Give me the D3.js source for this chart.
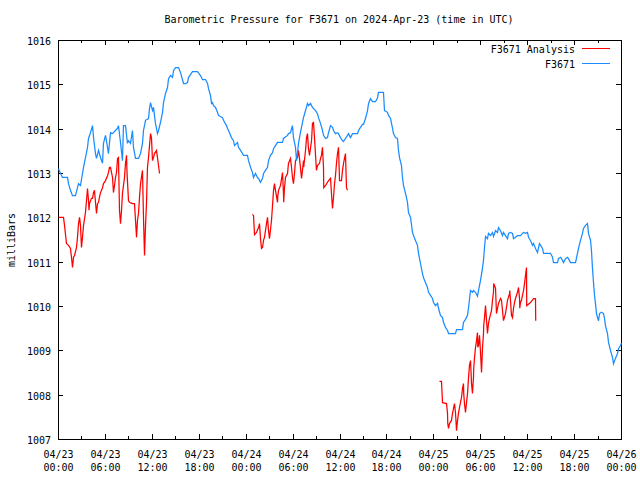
<!DOCTYPE html>
<html><head><meta charset="utf-8">
<script src="https://cdn.jsdelivr.net/npm/d3@7"></script>
<style>body{margin:0;background:#fff}</style>
</head><body>
<svg id="c" width="640" height="480"></svg>
<script>
const titleText = "Barometric Pressure for F3671 on 2024-Apr-23 (time in UTC)";
const yLabelText = "milliBars";
const seriesNames = ["F3671 Analysis", "F3671"];
const seriesColors = ["#ff0000", "#1a8cff"];
const xTickHours = [0, 6, 12, 18, 24, 30, 36, 42, 48, 54, 60, 66, 72];
const xMinorHours = [3, 9, 15, 21, 27, 33, 39, 45, 51, 57, 63, 69];
const xTickDates = ["04/23","04/23","04/23","04/23","04/24","04/24","04/24","04/24","04/25","04/25","04/25","04/25","04/26"];
const xTickTimes = ["00:00","06:00","12:00","18:00","00:00","06:00","12:00","18:00","00:00","06:00","12:00","18:00","00:00"];
const yTicks = [1007, 1008, 1009, 1010, 1011, 1012, 1013, 1014, 1015, 1016];

// F3671 observed pressure (hours since 2024-04-23 00:00 UTC)
const pressureHours = [0,0.26,0.51,1.15,1.28,1.53,1.79,2.17,2.43,2.56,2.81,3.07,3.20,3.45,3.71,3.84,4.09,4.35,4.48,4.73,4.86,5.12,5.37,5.63,5.75,6.01,6.27,6.39,6.65,6.91,7.29,7.55,7.67,7.93,8.18,8.31,8.57,8.82,8.95,9.21,9.46,9.59,9.85,10.23,10.49,10.74,10.87,11.13,11.51,11.64,11.77,12.02,12.15,12.40,12.66,12.79,13.04,13.30,13.43,13.68,13.94,14.07,14.32,14.58,14.71,14.96,15.35,15.60,15.99,16.24,16.50,16.63,17.14,17.78,18.16,18.42,18.80,19.06,19.18,19.44,19.57,19.69,19.82,20.08,20.33,20.46,20.97,21.10,21.48,21.61,21.87,22.12,22.38,22.51,22.89,23.02,23.28,23.66,24.17,24.30,24.56,24.81,24.94,25.19,25.45,25.58,25.83,26.09,26.22,26.47,26.73,26.86,27.11,27.37,27.50,27.75,28.01,28.65,28.77,29.29,29.41,29.66,29.92,30.05,30.31,30.44,30.56,30.69,30.94,31.20,31.33,31.59,31.84,31.97,32.23,32.48,32.87,33.12,33.25,33.51,33.76,33.89,34.15,34.40,34.53,34.79,35.04,35.17,35.42,35.68,35.81,36.06,36.32,36.45,36.70,36.96,37.09,37.34,37.60,38.24,38.37,38.62,38.88,39.01,39.26,39.52,39.65,39.90,40.16,40.54,40.80,40.92,41.56,41.69,42.07,42.20,42.46,42.72,42.84,43.10,43.35,43.48,43.61,43.86,43.99,44.12,44.38,44.63,44.76,45.02,45.27,45.40,45.65,45.91,46.04,46.29,46.55,46.68,46.93,47.19,47.32,47.57,47.83,47.96,48.21,48.47,48.60,48.85,49.11,49.24,49.49,49.75,49.88,50.77,50.90,51.67,51.79,52.05,52.31,52.43,52.69,52.94,53.07,53.33,53.58,53.71,53.97,54.22,54.35,54.48,54.61,54.86,54.99,55.25,55.50,55.63,55.89,56.14,56.27,56.53,56.78,56.91,57.16,57.42,57.55,57.80,58.06,58.19,58.44,58.70,59.08,59.34,59.47,59.72,59.98,60.11,60.36,60.62,60.75,61.00,61.26,61.51,61.90,62.03,62.92,63.18,63.30,63.82,63.94,64.20,64.45,64.58,64.84,65.09,65.22,65.48,66.12,66.37,66.50,66.76,67.01,67.14,67.40,67.65,67.78,68.04,68.16,68.29,68.42,68.55,68.67,68.80,68.93,69.06,69.19,69.44,69.70,69.83,69.95,70.21,70.34,70.59,70.85,70.98,71.23,71.49,71.62,71.87,72.00];
const pressureValues = [1013.11,1013.00,1012.91,1012.91,1012.77,1012.62,1012.50,1012.50,1012.68,1012.77,1012.73,1013.00,1013.14,1013.36,1013.59,1013.79,1013.92,1014.08,1013.81,1013.45,1013.34,1013.52,1013.36,1013.23,1013.68,1013.86,1013.59,1013.45,1013.92,1013.90,1013.97,1014.02,1014.08,1013.70,1013.29,1014.08,1014.08,1013.68,1013.74,1013.68,1013.97,1013.59,1013.34,1013.34,1013.45,1013.68,1013.97,1014.20,1014.24,1014.47,1014.60,1014.42,1014.49,1014.13,1013.90,1013.97,1014.15,1014.38,1014.60,1014.80,1014.94,1015.14,1015.21,1015.17,1015.32,1015.39,1015.39,1015.28,1015.03,1015.03,1015.05,1015.17,1015.30,1015.30,1015.21,1015.12,1015.12,1015.03,1014.92,1014.76,1014.58,1014.60,1014.53,1014.49,1014.38,1014.31,1014.26,1014.20,1014.08,1014.02,1013.92,1013.81,1013.74,1013.63,1013.70,1013.59,1013.52,1013.41,1013.41,1013.29,1013.14,1013.02,1012.91,1013.00,1012.91,1012.89,1012.80,1012.89,1013.00,1013.07,1013.14,1013.29,1013.41,1013.47,1013.56,1013.63,1013.70,1013.70,1013.79,1013.86,1013.90,1013.92,1014.08,1013.81,1013.59,1013.29,1013.45,1013.68,1013.92,1014.15,1014.26,1014.42,1014.58,1014.53,1014.58,1014.49,1014.42,1014.35,1014.26,1014.13,1013.97,1013.86,1013.79,1013.81,1013.92,1014.08,1014.04,1013.97,1013.90,1013.92,1013.90,1013.81,1013.74,1013.72,1013.79,1013.86,1013.90,1013.81,1013.90,1013.90,1013.97,1014.04,1014.11,1014.11,1014.24,1014.42,1014.58,1014.69,1014.62,1014.62,1014.71,1014.83,1014.83,1014.42,1014.38,1014.31,1014.24,1014.02,1013.90,1013.81,1013.79,1013.52,1013.36,1013.18,1012.91,1012.73,1012.55,1012.35,1012.12,1012.01,1011.67,1011.60,1011.49,1011.38,1011.20,1010.97,1010.74,1010.65,1010.54,1010.43,1010.32,1010.25,1010.18,1010.09,1010.02,1010.07,1009.96,1009.80,1009.75,1009.64,1009.53,1009.46,1009.39,1009.39,1009.48,1009.48,1009.64,1009.71,1009.80,1009.96,1010.36,1010.32,1010.36,1010.32,1010.23,1010.36,1010.59,1010.86,1011.04,1011.33,1011.58,1011.53,1011.65,1011.60,1011.67,1011.58,1011.71,1011.67,1011.78,1011.71,1011.60,1011.67,1011.60,1011.53,1011.65,1011.67,1011.65,1011.53,1011.56,1011.60,1011.60,1011.65,1011.67,1011.65,1011.67,1011.56,1011.49,1011.38,1011.42,1011.31,1011.22,1011.42,1011.31,1011.20,1011.20,1011.11,1010.99,1010.99,1011.08,1011.11,1011.04,1010.99,1011.08,1011.11,1011.08,1010.99,1010.99,1011.20,1011.31,1011.49,1011.65,1011.76,1011.83,1011.87,1011.65,1011.49,1011.26,1010.86,1010.54,1010.25,1010.07,1009.84,1009.75,1009.68,1009.84,1009.87,1009.84,1009.73,1009.57,1009.39,1009.19,1009.01,1008.85,1008.71,1008.83,1008.94,1009.05,1009.12,1009.17];

// F3671 Analysis (null = gap between runs)
const analysisHours = [0,0.64,0.77,1.02,1.28,1.53,1.66,1.79,1.92,2.05,2.30,2.43,2.56,2.69,2.81,2.94,3.07,3.20,3.45,3.58,3.71,3.84,3.90,3.96,4.22,4.35,4.48,4.60,4.73,4.86,4.99,5.12,5.24,5.37,5.63,5.75,6.01,6.27,6.39,6.52,6.65,6.91,7.03,7.16,7.29,7.42,7.55,7.67,7.80,7.93,8.06,8.18,8.44,8.57,8.70,8.75,8.95,9.08,9.46,9.72,9.85,9.98,10.10,10.23,10.36,10.49,10.74,10.87,11.00,11.13,11.25,11.38,11.51,11.77,11.89,12.02,12.15,12.28,12.53,12.66,12.79,12.92,
  null,
  24.81,24.94,25.07,25.32,25.58,25.71,25.83,25.96,26.09,26.22,26.34,26.47,26.60,26.73,26.86,26.98,27.24,27.37,27.50,27.62,27.75,28.01,28.05,28.14,28.39,28.65,28.77,28.80,28.90,29.03,29.29,29.41,29.67,29.80,29.92,30.05,30.18,30.31,30.56,30.69,30.82,31.08,31.20,31.33,31.36,31.59,31.72,31.84,31.97,32.10,32.36,32.48,32.61,32.74,32.87,32.99,33.12,33.38,33.51,33.63,33.76,33.89,33.92,34.15,34.53,34.79,34.91,35.04,35.17,35.30,35.42,35.55,35.68,35.81,35.94,36.19,36.32,36.45,36.70,36.83,36.96,
  null,
  48.72,48.98,49.11,49.62,49.75,49.78,49.88,50.00,50.26,50.39,50.52,50.64,50.77,50.90,51.03,51.15,51.28,51.54,51.67,51.79,51.82,51.92,52.05,52.18,52.31,52.43,52.56,52.69,52.82,52.94,53.07,53.10,53.20,53.33,53.46,53.58,53.62,53.71,53.84,53.97,54.10,54.22,54.35,54.38,54.48,54.61,54.74,54.86,54.99,55.12,55.38,55.50,55.63,55.66,55.89,56.01,56.14,56.27,56.53,56.65,56.78,56.91,57.16,57.29,57.42,57.68,57.71,57.80,57.93,58.06,58.19,58.32,58.44,58.70,58.83,58.96,58.99,59.08,59.21,59.34,59.47,59.60,59.72,59.85,59.88,60.36,60.75,61.00,61.03];
const analysisValues = [1012.01,1012.01,1011.83,1011.42,1011.38,1011.31,1011.11,1010.88,1011.11,1011.15,1011.33,1011.56,1011.87,1012.01,1011.83,1011.33,1011.56,1011.83,1012.12,1012.39,1012.66,1012.39,1012.17,1012.32,1012.44,1012.44,1012.57,1012.62,1012.35,1012.10,1012.32,1012.35,1012.46,1012.57,1012.68,1012.77,1012.84,1012.95,1013.02,1013.14,1013.14,1012.91,1012.57,1012.73,1012.91,1013.02,1013.34,1013.36,1012.17,1011.87,1012.17,1012.55,1012.91,1013.23,1013.41,1013.07,1012.39,1012.35,1012.32,1012.32,1011.94,1011.56,1011.94,1012.10,1012.46,1012.77,1013.07,1011.99,1011.15,1011.83,1012.32,1013.14,1013.36,1013.90,1013.81,1013.29,1013.36,1013.45,1013.52,1013.36,1013.18,1013.00,
  null,
  1012.08,1012.05,1011.62,1011.67,1011.78,1011.87,1011.53,1011.31,1011.33,1011.49,1011.56,1011.71,1011.87,1012.01,1011.71,1011.53,1011.94,1012.28,1012.62,1012.77,1012.62,1012.35,1012.50,1012.62,1012.73,1013.02,1012.55,1012.35,1012.68,1012.91,1013.00,1013.23,1013.34,1013.14,1012.91,1012.77,1013.00,1013.29,1013.36,1013.52,1013.34,1012.89,1013.07,1013.29,1013.14,1013.52,1013.81,1013.90,1013.56,1013.41,1013.74,1014.13,1014.15,1013.81,1013.41,1013.07,1013.18,1013.23,1013.34,1013.41,1013.59,1013.14,1012.68,1012.73,1012.84,1012.89,1012.55,1012.21,1012.46,1012.77,1012.95,1013.23,1013.45,1013.59,1012.84,1012.84,1013.07,1013.23,1013.45,1012.68,1012.62,
  null,
  1008.31,1008.31,1007.83,1007.81,1007.59,1007.36,1007.25,1007.36,1007.43,1007.59,1007.70,1007.81,1007.61,1007.20,1007.43,1007.59,1007.72,1007.95,1008.15,1008.26,1008.04,1007.81,1007.61,1007.83,1008.04,1008.38,1008.67,1008.78,1008.26,1008.04,1008.40,1008.60,1008.83,1009.08,1009.23,1009.41,1009.08,1009.12,1009.35,1008.96,1008.51,1009.05,1009.39,1009.57,1009.75,1010.02,1009.68,1009.39,1009.62,1009.73,1009.91,1010.14,1010.32,1010.52,1010.41,1009.84,1009.96,1010.07,1010.18,1010.14,1009.91,1009.68,1009.84,1009.98,1010.14,1010.29,1010.36,1010.14,1009.80,1009.75,1009.96,1010.09,1010.18,1010.32,1010.43,1010.18,1009.96,1010.09,1010.14,1010.25,1010.36,1010.52,1010.70,1010.88,1010.02,1010.09,1010.18,1010.18,1009.68];

const FONT = "'DejaVu Sans Mono', 'Liberation Mono', monospace";
const svg = d3.select("#c");
const L = 58, R = 621, T = 40, B = 439;
const x = d3.scaleLinear().domain([0, 72]).range([L + 0.5, R + 0.5]);
const y = d3.scaleLinear().domain([1007, 1016]).range([B + 0.5, T + 0.5]);

svg.append("rect").attr("width", 640).attr("height", 480).attr("fill", "#fff");

const txt = (g) => g.attr("font-family", FONT).attr("font-size", "10px").attr("fill", "#000");

// title
svg.append("text").call(txt).attr("x", 339).attr("y", 23).attr("text-anchor", "middle").text(titleText);
// y label
svg.append("text").call(txt).attr("transform", "translate(15,240) rotate(-90)").attr("text-anchor", "middle").text(yLabelText);

// ticks
const tickG = svg.append("g").attr("stroke", "#000").attr("stroke-width", 1).attr("shape-rendering", "crispEdges");
const MAJ = 5, MIN = 3;
yTicks.forEach(v => {
  const yy = Math.round(y(v) - 0.5) + 0.5;
  tickG.append("line").attr("x1", L).attr("x2", L + MAJ).attr("y1", yy).attr("y2", yy);
  tickG.append("line").attr("x1", R - MAJ).attr("x2", R).attr("y1", yy).attr("y2", yy);
  svg.append("text").call(txt).attr("x", 51).attr("y", yy + 4).attr("text-anchor", "end").text(v);
});
xTickHours.forEach((h, i) => {
  const xx = Math.round(x(h) - 0.5) + 0.5;
  tickG.append("line").attr("x1", xx).attr("x2", xx).attr("y1", B).attr("y2", B - MAJ);
  tickG.append("line").attr("x1", xx).attr("x2", xx).attr("y1", T).attr("y2", T + MAJ);
  const t = svg.append("text").call(txt).attr("text-anchor", "middle");
  t.append("tspan").attr("x", xx).attr("y", 458).text(xTickDates[i]);
  t.append("tspan").attr("x", xx).attr("y", 471).text(xTickTimes[i]);
});
xMinorHours.forEach(h => {
  const xx = Math.round(x(h) - 0.5) + 0.5;
  tickG.append("line").attr("x1", xx).attr("x2", xx).attr("y1", B).attr("y2", B - MIN);
  tickG.append("line").attr("x1", xx).attr("x2", xx).attr("y1", T).attr("y2", T + MIN);
});

// border
svg.append("rect").attr("x", L + 0.5).attr("y", T + 0.5).attr("width", R - L).attr("height", B - T)
  .attr("fill", "none").attr("stroke", "#000").attr("shape-rendering", "crispEdges");

// series
const analysis = analysisHours.map((h, i) => ({h, v: analysisValues[i]}));
const pressure = pressureHours.map((h, i) => ({h, v: pressureValues[i]}));
const line = d3.line().defined(d => d.h != null && d.v != null).x(d => x(d.h)).y(d => y(d.v));
svg.append("path").datum(analysis).attr("d", line).attr("fill", "none")
  .attr("stroke", seriesColors[0]).attr("stroke-width", 1.25);
svg.append("path").datum(pressure).attr("d", line).attr("fill", "none")
  .attr("stroke", seriesColors[1]).attr("stroke-width", 1.25);

// legend
seriesNames.forEach((name, i) => {
  const yy = 49 + i * 15;
  svg.append("text").call(txt).attr("x", 575).attr("y", yy + 3.5).attr("text-anchor", "end").text(name);
  svg.append("line").attr("x1", 582).attr("x2", 610).attr("y1", yy - 0.5).attr("y2", yy - 0.5)
    .attr("stroke", seriesColors[i]).attr("stroke-width", 1).attr("shape-rendering", "crispEdges");
});
</script>
</body></html>
